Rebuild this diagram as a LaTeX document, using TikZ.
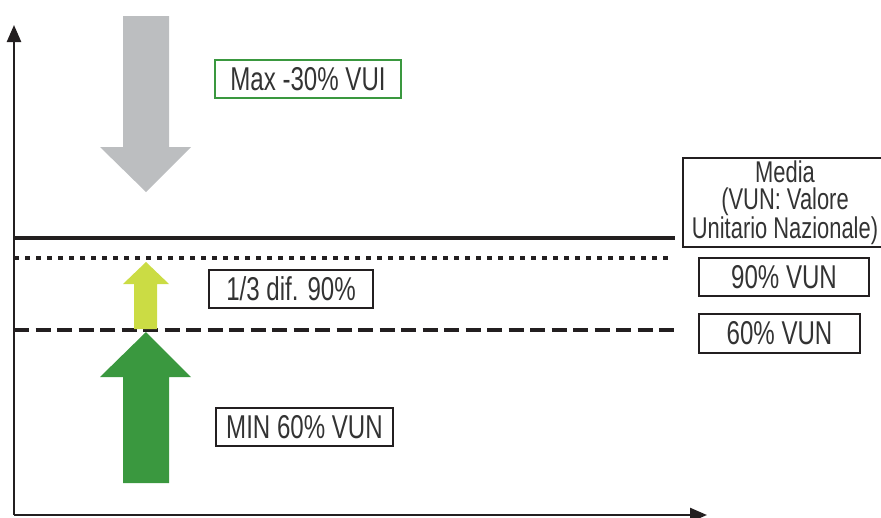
\documentclass[tikz,border=0pt]{standalone}
\usepackage{fontspec}
\setmainfont{Liberation Sans}[FakeStretch=0.73]
\newfontfamily\medfont{Liberation Sans}[FakeStretch=0.73]
\usetikzlibrary{arrows.meta}
\definecolor{arrgray}{HTML}{BCBEC0}
\definecolor{arrgreen}{HTML}{3A983F}
\definecolor{arryellow}{HTML}{CBDC44}
\definecolor{txtgray}{HTML}{333333}
\definecolor{linek}{HTML}{231F20}
\tikzset{
  lbl/.style={draw=linek, line width=2pt, inner sep=0pt, text=txtgray,
    font=\fontsize{33}{25}\selectfont, align=center, anchor=north west},
  axis/.style={draw=linek, line width=2.5pt, -{Triangle[length=17pt,width=14pt]}},
  level/.style={draw=linek, line width=3.5pt}
}
\begin{document}
\begin{tikzpicture}[x=1pt,y=-1pt]
\useasboundingbox (0,0) rectangle (881,517);
% axes
\coordinate (O) at (14,515);
\coordinate (ytop) at (14,25);
\coordinate (xend) at (707,515);
\draw[axis] (O) -- (ytop);
\draw[axis] (O) -- (xend);
% levels
\coordinate (ms) at (14,238);  \coordinate (me) at (675,238);
\coordinate (ns) at (14,258);  \coordinate (ne) at (668,258);
\coordinate (ss) at (14,330);  \coordinate (se) at (676,330);
\draw[level] (ms) -- (me);
\draw[level, line width=4pt, dash pattern=on 4.5pt off 6.5pt] (ns) -- (ne);
\draw[level, line width=4pt, dash pattern=on 15pt off 6.5pt] (ss) -- (se);
% gray arrow (down)
\fill[arrgray] (123,16) -- (169,16) -- (169,147) -- (191,147) -- (146,192) -- (100,147) -- (123,147) -- cycle;
% yellow arrow (up)
\fill[arryellow] (134,329) -- (157,329) -- (157,284) -- (169,284) -- (146,262) -- (123,284) -- (134,284) -- cycle;
% green arrow (up)
\fill[arrgreen] (123,483) -- (169,483) -- (169,377) -- (191,377) -- (146,332) -- (100,377) -- (123,377) -- cycle;
% labels
\node[lbl, draw=arrgreen, minimum width=186pt, minimum height=38pt] (max) at (214,59) {Max -30\% VUI};
\node[lbl, minimum width=164pt, minimum height=38pt] (dif) at (208,269) {1/3 dif. 90\%};
\node[lbl, minimum width=177pt, minimum height=38pt] (min) at (215,407) {MIN 60\% VUN};
\node[lbl, font=\medfont\fontsize{30}{27.5}\selectfont, minimum width=204pt, minimum height=89pt] (media) at (682,157) {Media\\(VUN: Valore\\Unitario Nazionale)};
\node[lbl, minimum width=170pt, minimum height=38pt] (n90) at (698,257) {90\% VUN};
\node[lbl, minimum width=161pt, minimum height=39pt] (n60) at (698,313) {60\% VUN};
\end{tikzpicture}
\end{document}
